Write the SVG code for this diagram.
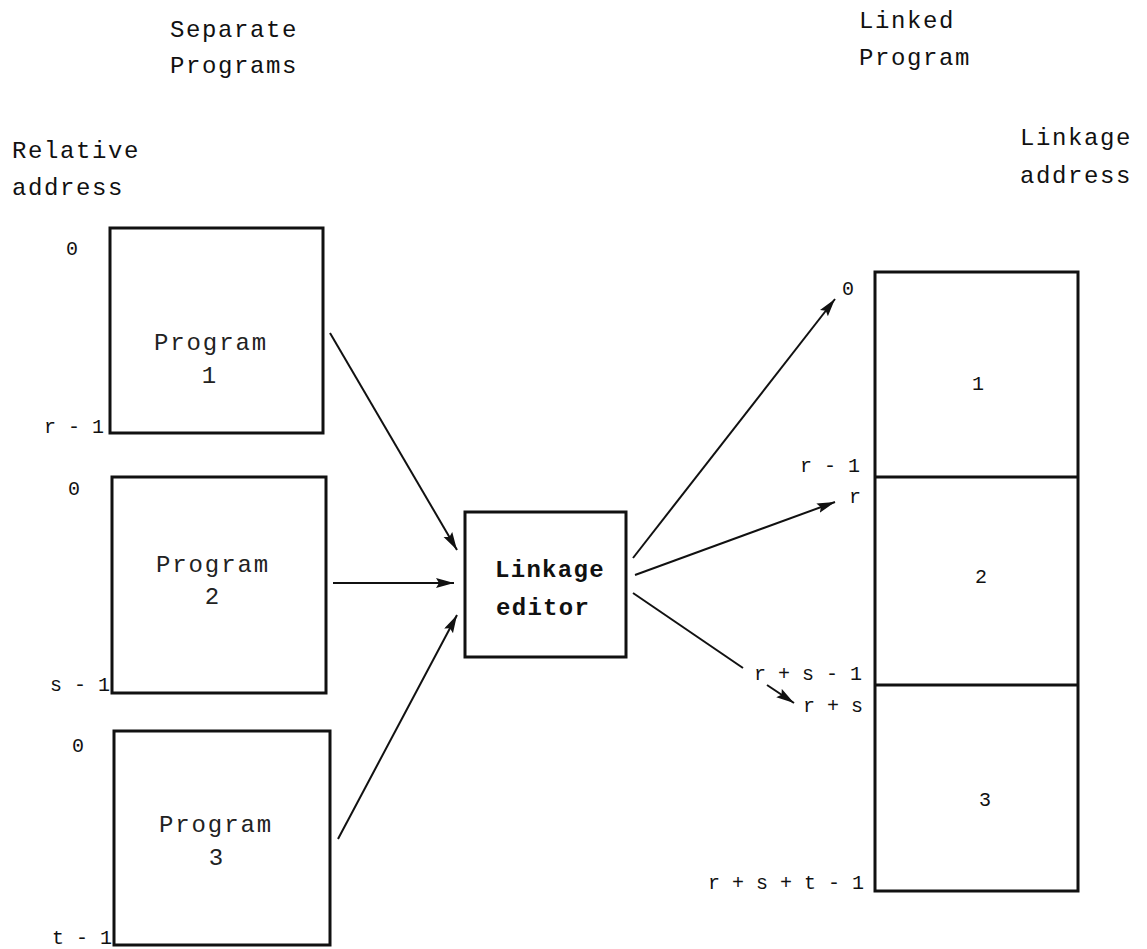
<svg xmlns="http://www.w3.org/2000/svg" width="1147" height="949" viewBox="0 0 1147 949">
<style>
  .box { fill: #fff; stroke: #111; stroke-width: 3; }
  .ln { stroke: #111; stroke-width: 2; fill: none; }
  .title { font-family: "Liberation Mono", "DejaVu Sans Mono", monospace; font-size: 24px; letter-spacing: 1.6px; fill: #111; }
  .prog { font-family: "Liberation Mono", "DejaVu Sans Mono", monospace; font-size: 24px; letter-spacing: 1.9px; fill: #222; text-anchor: middle; }
  .bold { font-family: "Liberation Mono", "DejaVu Sans Mono", monospace; font-size: 24px; font-weight: bold; letter-spacing: 1.3px; fill: #111; }
  .lab { font-family: "Liberation Mono", "DejaVu Sans Mono", monospace; font-size: 20px; fill: #111; }
  .end { text-anchor: end; }
  .mid { text-anchor: middle; }
</style>
<defs>
  <marker id="ah" markerUnits="userSpaceOnUse" markerWidth="20" markerHeight="12" refX="18" refY="5" orient="auto">
    <path d="M0,0 L18,5 L0,10 L3,5 Z" fill="#111"/>
  </marker>
</defs>

<g id="titles">
  <text class="title" x="170" y="37">Separate</text>
  <text class="title" x="170" y="73">Programs</text>
  <text class="title" x="859" y="28">Linked</text>
  <text class="title" x="859" y="65">Program</text>
  <text class="title" x="12" y="158">Relative</text>
  <text class="title" x="12" y="195">address</text>
  <text class="title" x="1020" y="145">Linkage</text>
  <text class="title" x="1020" y="183">address</text>
</g>

<g id="program1">
  <rect class="box" x="110" y="228" width="213" height="205"/>
  <text class="prog" x="211" y="350">Program</text>
  <text class="prog" x="210" y="383">1</text>
  <text class="lab" x="66" y="255">0</text>
  <text class="lab end" x="104" y="433">r - 1</text>
</g>

<g id="program2">
  <rect class="box" x="112" y="477" width="214" height="216"/>
  <text class="prog" x="213" y="572">Program</text>
  <text class="prog" x="213" y="604">2</text>
  <text class="lab" x="68" y="495">0</text>
  <text class="lab end" x="110" y="691">s - 1</text>
</g>

<g id="program3">
  <rect class="box" x="114" y="731" width="216" height="214"/>
  <text class="prog" x="216" y="832">Program</text>
  <text class="prog" x="217" y="865">3</text>
  <text class="lab" x="72" y="752">0</text>
  <text class="lab end" x="112" y="944">t - 1</text>
</g>

<g id="linkage-editor">
  <rect class="box" x="465" y="512" width="161" height="145"/>
  <text class="bold" x="495" y="577">Linkage</text>
  <text class="bold" x="496" y="615">editor</text>
</g>

<g id="linked-program">
  <rect class="box" x="875" y="272" width="203" height="619"/>
  <line class="box" x1="875" y1="477" x2="1078" y2="477" stroke-width="2.5"/>
  <line class="box" x1="875" y1="685" x2="1078" y2="685" stroke-width="2.5"/>
  <text class="lab mid" x="978" y="390">1</text>
  <text class="lab mid" x="981" y="583">2</text>
  <text class="lab mid" x="985" y="806">3</text>
  <text class="lab" x="842" y="295">0</text>
  <text class="lab end" x="860" y="472">r - 1</text>
  <text class="lab end" x="861" y="503">r</text>
  <text class="lab end" x="862" y="680">r + s - 1</text>
  <text class="lab end" x="863" y="712">r + s</text>
  <text class="lab end" x="864" y="889">r + s + t - 1</text>
</g>

<g id="connectors">
  <line class="ln" x1="330" y1="333" x2="457" y2="550" marker-end="url(#ah)"/>
  <line class="ln" x1="333" y1="583" x2="454" y2="583" stroke-width="1.5" marker-end="url(#ah)"/>
  <line class="ln" x1="338" y1="839" x2="457" y2="615" marker-end="url(#ah)"/>
  <line class="ln" x1="633" y1="558" x2="835" y2="299" marker-end="url(#ah)"/>
  <line class="ln" x1="635" y1="575" x2="835" y2="502" marker-end="url(#ah)"/>
  <line class="ln" x1="633" y1="593" x2="743" y2="668"/>
  <line class="ln" x1="767" y1="685" x2="794" y2="703" marker-end="url(#ah)"/>
</g>
</svg>
